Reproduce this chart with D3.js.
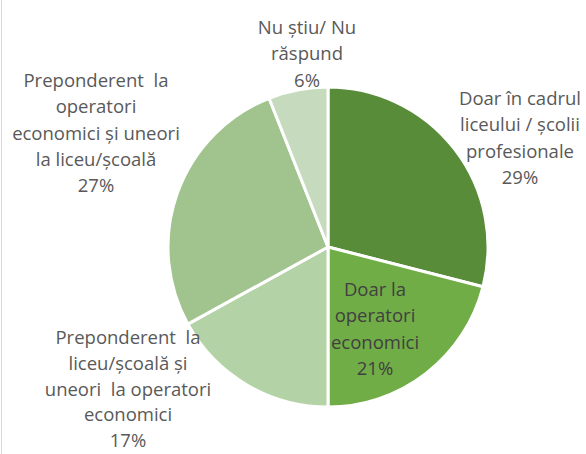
<!DOCTYPE html>
<html>
<head>
<meta charset="utf-8">
<script src="https://cdn.jsdelivr.net/npm/d3@7"></script>
<style>
  body { margin: 0; background: #fff; }
  svg { display: block; }
</style>
</head>
<body>
<div id="chart"></div>
<script>
const WIDTH = 586;
const HEIGHT = 454;
const CX = 328;
const CY = 247;
const RADIUS = 160;
const LINE_H = 26.3;

// slices, clockwise from 12 o'clock
const categories = [
  ['Doar în cadrul', 'liceului / școlii', 'profesionale'],
  ['Doar la', 'operatori', 'economici'],
  ['Preponderent  la', 'liceu/școală și', 'uneori  la operatori', 'economici'],
  ['Preponderent  la', 'operatori', 'economici și uneori', 'la liceu/școală'],
  ['Nu știu/ Nu', 'răspund']
];
const values = [29, 21, 17, 27, 6];
const colors = ['#588c39', '#71ad47', '#b3d2a5', '#a1c48f', '#c6dbbd'];

// label anchor: centre x, baseline of first line, line step
const labelPos = [
  [520, 105, LINE_H],
  [375, 296, LINE_H],
  [128, 344, 25.8],
  [96, 87, LINE_H],
  [307, 34, LINE_H]
];

const svg = d3.select('#chart')
  .append('svg')
  .attr('width', WIDTH)
  .attr('height', HEIGHT);

// thin frame line on the left edge
svg.append('line')
  .attr('x1', 1.5).attr('x2', 1.5)
  .attr('y1', 0).attr('y2', HEIGHT)
  .attr('stroke', '#d9d9d9')
  .attr('stroke-width', 1);

const pie = d3.pie().sort(null).value(d => d);
const arc = d3.arc().innerRadius(0).outerRadius(RADIUS);

const g = svg.append('g')
  .attr('transform', 'translate(' + CX + ',' + CY + ')');

g.selectAll('path')
  .data(pie(values))
  .enter()
  .append('path')
  .attr('d', arc)
  .attr('fill', (d, i) => colors[i])
  .attr('stroke', '#fff')
  .attr('stroke-width', 3)
  .attr('stroke-linejoin', 'round');

// labels
categories.forEach(function(lines, i) {
  const all = lines.concat([values[i] + '%']);
  const p = labelPos[i];
  const t = svg.append('text')
    .attr('text-anchor', 'middle')
    .attr('font-family', '"Open Sans", sans-serif')
    .attr('font-size', 18.5)
    .attr('fill', i === 1 ? '#404040' : '#595959');
  all.forEach(function(s, j) {
    t.append('tspan')
      .attr('x', p[0])
      .attr('y', p[1] + j * p[2])
      .attr('xml:space', 'preserve')
      .style('white-space', 'pre')
      .text(s);
  });
});
</script>
</body>
</html>
